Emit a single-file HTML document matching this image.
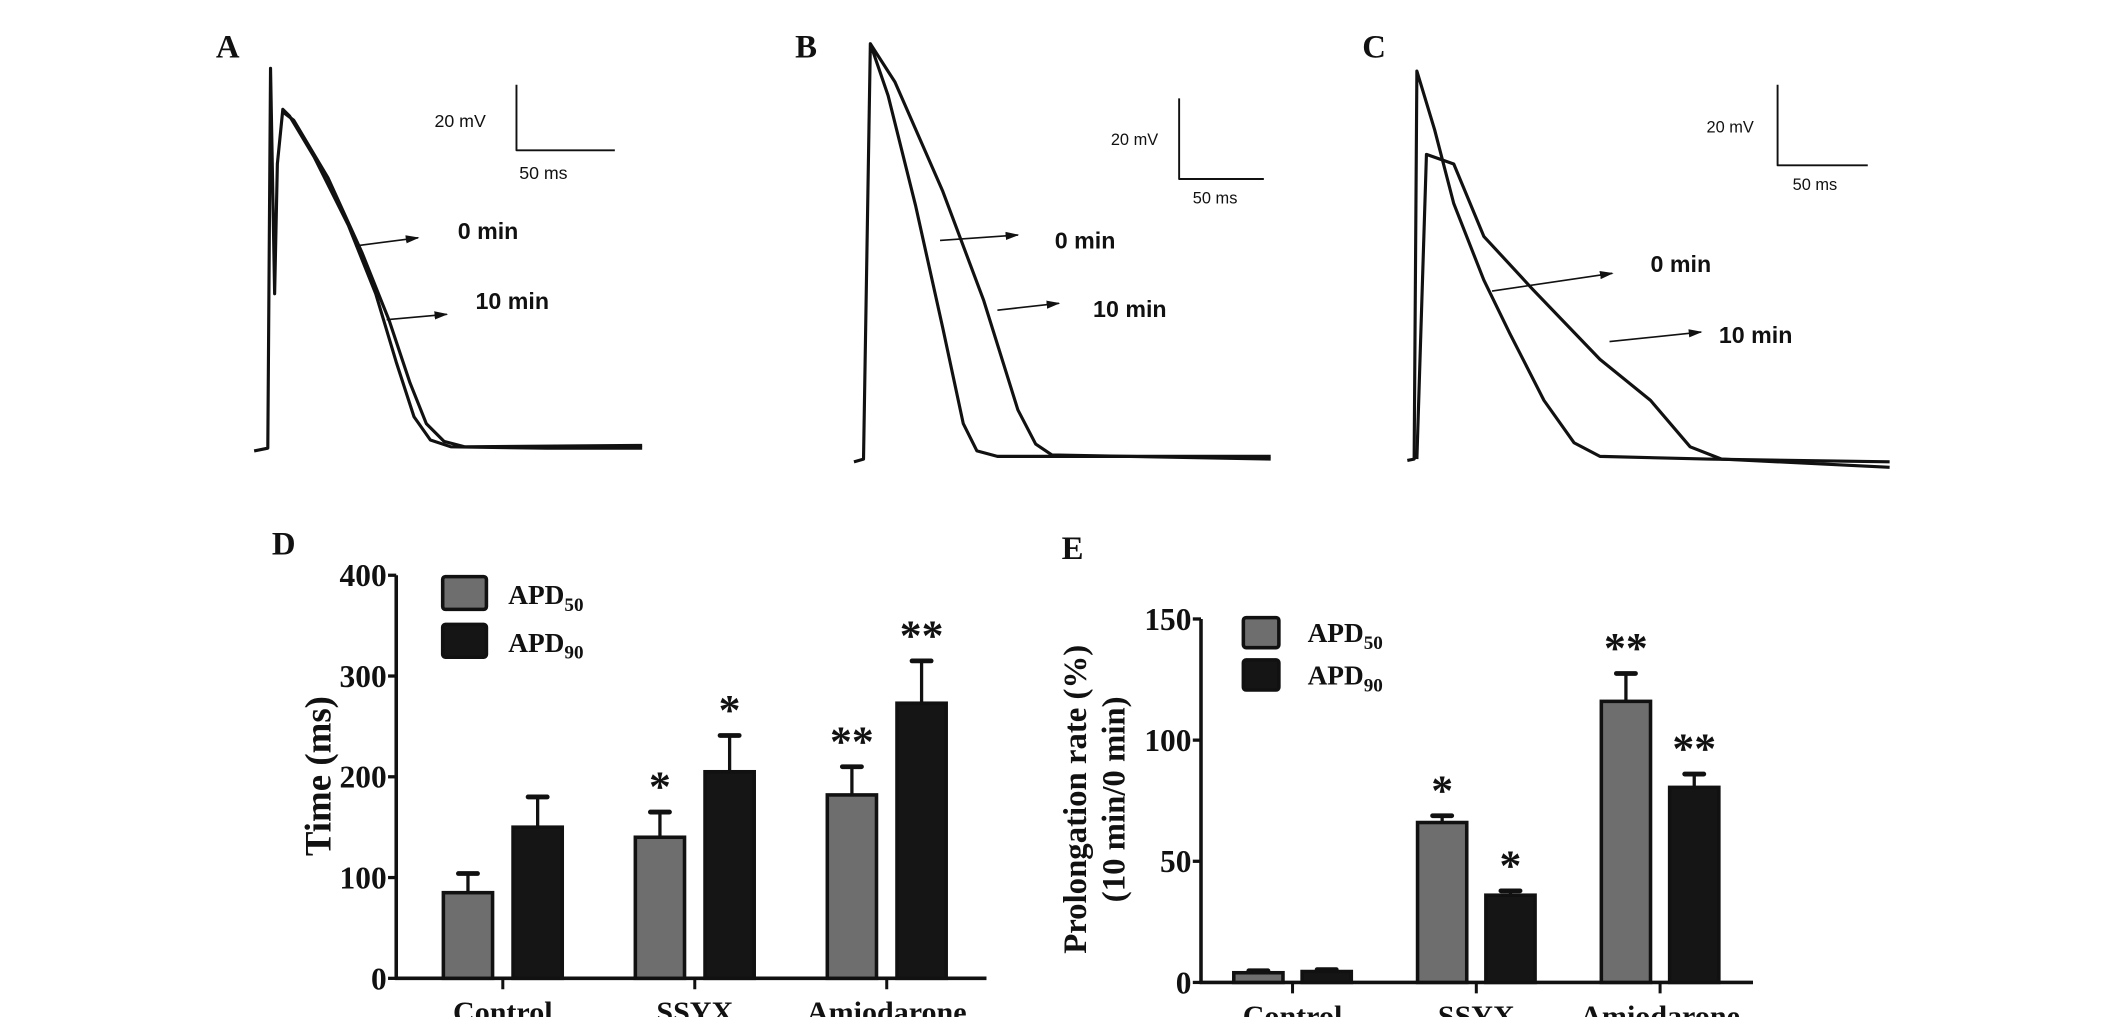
<!DOCTYPE html>
<html><head><meta charset="utf-8"><style>
html,body{margin:0;padding:0;background:#fff;}
svg{display:block;}
.serif{font-family:"Liberation Serif",serif;font-weight:bold;}
.sans{font-family:"Liberation Sans",sans-serif;}
</style></head><body>
<svg id="fig" width="2126" height="1017" viewBox="0 0 1556 744.3" preserveAspectRatio="none" xmlns="http://www.w3.org/2000/svg">
<defs>
  <marker id="ah" markerWidth="10" markerHeight="8" refX="9" refY="4" orient="auto" markerUnits="userSpaceOnUse">
    <path d="M0,1 L10,4 L0,7 Z" fill="#111"/>
  </marker>
</defs>
<g id="top" fill="none" stroke="#111" stroke-width="2.3" stroke-linejoin="round">
  <!-- Panel A -->
  <polyline points="186,330 196,328 198,50 201,215 203,120 207,80 212,85 230,115 255,165 275,215 290,265 303,305 315,322 330,327 400,328 470,328"/>
  <polyline points="207,82 215,88 240,130 265,185 285,235 300,280 312,310 325,323 340,327 470,326"/>
  <polyline points="378,62 378,110 450,110" stroke-width="1.4"/>
  <line x1="260" y1="180" x2="306" y2="174" stroke-width="1.2" marker-end="url(#ah)"/>
  <line x1="283" y1="234" x2="327" y2="230" stroke-width="1.2" marker-end="url(#ah)"/>
  <!-- Panel B -->
  <polyline points="625,338 632,336 637,32 650,70 670,150 690,240 705,310 715,330 730,334 930,334"/>
  <polyline points="637,32 655,60 690,140 720,220 745,300 758,325 770,333 930,336"/>
  <polyline points="863,72 863,131 925,131" stroke-width="1.4"/>
  <line x1="688" y1="176" x2="745" y2="172" stroke-width="1.2" marker-end="url(#ah)"/>
  <line x1="730" y1="227" x2="775" y2="222" stroke-width="1.2" marker-end="url(#ah)"/>
  <!-- Panel C -->
  <polyline points="1030,337 1035,336 1037,52 1050,95 1064,149 1086,205 1105,244 1130,293 1152,324 1171,334 1250,336 1383,338"/>
  <polyline points="1037,336 1044,113 1064,120 1086,173 1122,212 1171,263 1208,293 1237,327 1260,336 1383,342"/>
  <polyline points="1301,62 1301,121 1367,121" stroke-width="1.4"/>
  <line x1="1092" y1="213" x2="1180" y2="200" stroke-width="1.2" marker-end="url(#ah)"/>
  <line x1="1178" y1="250" x2="1245" y2="243" stroke-width="1.2" marker-end="url(#ah)"/>
</g>
<g class="sans" fill="#111">
  <text x="318" y="93" font-size="13">20  mV</text>
  <text x="380" y="131" font-size="13">50  ms</text>
  <text x="335" y="175" font-size="17" font-weight="bold">0 min</text>
  <text x="348" y="226" font-size="17" font-weight="bold">10 min</text>
  <text x="813" y="106" font-size="12">20 mV</text>
  <text x="873" y="149" font-size="12">50 ms</text>
  <text x="772" y="182" font-size="17" font-weight="bold">0 min</text>
  <text x="800" y="232" font-size="17" font-weight="bold">10 min</text>
  <text x="1249" y="97" font-size="12">20 mV</text>
  <text x="1312" y="139" font-size="12">50 ms</text>
  <text x="1208" y="199" font-size="17" font-weight="bold">0 min</text>
  <text x="1258" y="251" font-size="17" font-weight="bold">10 min</text>
</g>
<g class="serif" fill="#111" font-size="24">
  <text x="158" y="42">A</text>
  <text x="582" y="42">B</text>
  <text x="997" y="42">C</text>
  <text x="199" y="406">D</text>
  <text x="777" y="409">E</text>
</g>
<g id="chartD"></g>
<g id="chartE"></g>
</svg>
<script>
const categories = ["Control", "SSYX", "Amiodarone"];
const dApd50 = [85, 140, 182];
const dApd50Err = [19, 25, 28];
const dApd90 = [150, 205, 273];
const dApd90Err = [30, 36, 42];
const dStars50 = ["", "*", "**"];
const dStars90 = ["", "*", "**"];
const dTicks = [0, 100, 200, 300, 400];
const eApd50 = [4, 66, 116];
const eApd50Err = [0.8, 2.8, 11.5];
const eApd90 = [4.5, 36, 80.5];
const eApd90Err = [0.8, 1.8, 5.5];
const eStars50 = ["", "*", "**"];
const eStars90 = ["", "*", "**"];
const eTicks = [0, 50, 100, 150];

const NS = "http://www.w3.org/2000/svg";
function mk(parent, tag, attrs, text) {
  const el = document.createElementNS(NS, tag);
  for (const k in attrs) el.setAttribute(k, attrs[k]);
  if (text !== undefined) el.textContent = text;
  parent.appendChild(el);
  return el;
}
function drawChart(g, cfg) {
  const y = v => cfg.y0 - (v - cfg.vmin) * (cfg.y0 - cfg.yTop) / (cfg.vmax - cfg.vmin);
  const xc = i => cfg.x0 + cfg.firstCenter + i * cfg.spacing;
  const ya = mk(g, "line", {x1: cfg.x0, y1: y(cfg.vmax), x2: cfg.x0, y2: cfg.y0 + 1, stroke: "#111", "stroke-width": 2.6});
  
  
  const xa = mk(g, "line", {x1: cfg.x0 - 1, y1: cfg.y0, x2: cfg.xEnd, y2: cfg.y0, stroke: "#111", "stroke-width": 2.6});
  
  
  cfg.ticks.forEach(t => {
    const tk = mk(g, "line", {x1: cfg.x0 - 6, y1: y(t), x2: cfg.x0, y2: y(t), stroke: "#111", "stroke-width": 2.4});
    
    
    const tl = mk(g, "text", {x: cfg.x0 - 7, y: y(t) + 8, "text-anchor": "end", "font-size": 23, class: "serif", fill: "#111"}, t);
    
    
  });
  categories.forEach((c, i) => {
    const cx = xc(i);
    const tk = mk(g, "line", {x1: cx, y1: cfg.y0, x2: cx, y2: cfg.y0 + 8, stroke: "#111", "stroke-width": 2.2});
    
    
    const tl = mk(g, "text", {x: cx, y: cfg.y0 + 32, "text-anchor": "middle", "font-size": 22, class: "serif", fill: "#111"}, c);
    
    
    const series = [
      {v: cfg.s50[i], e: cfg.e50[i], st: cfg.st50[i], fill: "#6e6e6e", dx: -cfg.offset, name: "bar-apd50-"},
      {v: cfg.s90[i], e: cfg.e90[i], st: cfg.st90[i], fill: "#151515", dx: cfg.offset, name: "bar-apd90-"}
    ];
    series.forEach(s => {
      const bx = cx + s.dx - cfg.bw / 2;
      const top = y(s.v + s.e);
      const el = mk(g, "line", {x1: cx + s.dx, y1: y(s.v), x2: cx + s.dx, y2: top, stroke: "#111", "stroke-width": 2.4});
      
      
      const cap = mk(g, "line", {x1: cx + s.dx - 7, y1: top, x2: cx + s.dx + 7, y2: top, stroke: "#111", "stroke-width": 3.5, "stroke-linecap": "round"});
      
      
      const r = mk(g, "rect", {x: bx, y: y(s.v), width: cfg.bw, height: cfg.y0 - y(s.v), fill: s.fill, stroke: "#111", "stroke-width": 2.6});
      
      
      if (s.st) {
        const t = mk(g, "text", {x: cx + s.dx, y: top - 8, "text-anchor": "middle", "font-size": 32, class: "serif", fill: "#111"}, s.st);
        
        
      }
    });
  });
  const L = cfg.legend;
  [["#6e6e6e", "50"], ["#151515", "90"]].forEach((it, k) => {
    const r = mk(g, "rect", {x: L.x, y: L.y + k * L.dy, width: L.w, height: L.h, rx: 2, fill: it[0], stroke: "#111", "stroke-width": 2.6});
    
    
    const t = mk(g, "text", {x: L.tx, y: L.y + k * L.dy + L.h - 4, "font-size": 20, class: "serif", fill: "#111"});
    
    
    t.appendChild(document.createTextNode("APD"));
    const sub = document.createElementNS(NS, "tspan");
    sub.setAttribute("font-size", "14");
    sub.setAttribute("dy", "5");
    sub.textContent = it[1];
    t.appendChild(sub);
  });
  cfg.titles.forEach((tt, k) => {
    const t = mk(g, "text", {x: 0, y: 0, "text-anchor": "middle", "font-size": cfg.titleSize, class: "serif", fill: "#111",
      transform: "translate(" + (cfg.titleX + k * 28) + "," + cfg.titleY + ") rotate(-90)"}, tt);
    
    
  });
}
drawChart(document.getElementById("chartD"), {
  x0: 290, y0: 716, yTop: 421, vmin: 0, vmax: 400, xEnd: 722,
  firstCenter: 78, spacing: 140.5, offset: 25.5, bw: 36,
  s50: dApd50, e50: dApd50Err, s90: dApd90, e90: dApd90Err, st50: dStars50, st90: dStars90, ticks: dTicks,
  legend: {x: 324, y: 422, w: 32, h: 24, dy: 35, tx: 372},
  titles: ["Time (ms)"], titleX: 242, titleY: 568, titleSize: 27
});
drawChart(document.getElementById("chartE"), {
  x0: 879, y0: 719, yTop: 453, vmin: 0, vmax: 150, xEnd: 1283,
  firstCenter: 67, spacing: 134.5, offset: 25, bw: 36,
  s50: eApd50, e50: eApd50Err, s90: eApd90, e90: eApd90Err, st50: eStars50, st90: eStars90, ticks: eTicks,
  legend: {x: 910, y: 452, w: 26, h: 22, dy: 31, tx: 957},
  titles: ["Prolongation rate (%)", "(10 min/0 min)"], titleX: 795, titleY: 585, titleSize: 24
});
</script>
</body></html>
